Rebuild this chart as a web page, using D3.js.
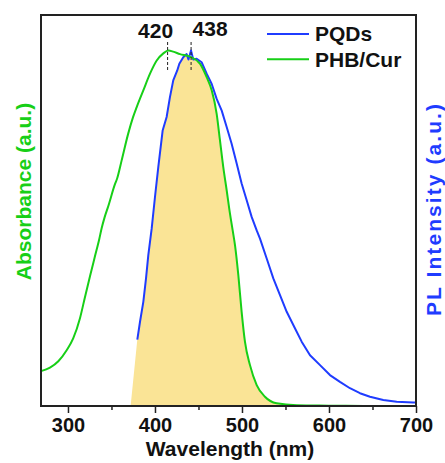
<!DOCTYPE html>
<html>
<head>
<meta charset="utf-8">
<script src="https://cdn.jsdelivr.net/npm/d3@7"></script>
<style>
    body { margin: 0; background: #fff; }
    text { font-family: "Liberation Sans", Arial, sans-serif; font-weight: bold; }
</style>
</head>
<body>
<div id="chart"></div>
<script>
// absorbance of PHB/Cur film (normalised)
const absWavelength = [269, 279.3, 288.9, 298.5, 306, 313.8, 319.5, 325.3, 331, 336, 338.7,
    342, 346.3, 354, 356.5, 361.7, 369.3, 374.7, 379, 386.6, 394.3, 402, 409.6, 415.3,
    421, 428.7, 440, 451.7, 459.4, 465.2, 470.9, 474.7, 478.5, 482.4, 486.2, 489.3, 492, 495.8,
    499.6, 503.4, 509.2, 516.9, 526.4, 539.8, 562.9, 600, 650, 700];
const absValue = [0.098, 0.108, 0.126, 0.157, 0.19, 0.247, 0.306, 0.365, 0.421, 0.47, 0.5,
    0.53, 0.562, 0.624, 0.64, 0.691, 0.767, 0.812, 0.841, 0.888, 0.935, 0.972, 0.992, 1.0,
    0.997, 0.99, 0.983, 0.963, 0.925, 0.888, 0.822, 0.747, 0.672, 0.607, 0.541, 0.494, 0.452, 0.368,
    0.265, 0.181, 0.115, 0.059, 0.026, 0.0075, 0.002, 0.001, 0.0, 0.0];

// PL emission of PQDs (normalised)
const plWavelength = [379.7, 382.8, 386.6, 389.7, 392.3, 396.2, 400, 403.8, 408.8, 413.4, 417.2,
    421, 425.6, 428, 432.5, 436.4, 438.5, 441.4, 444, 447.9, 453.6, 459.4, 465.2, 470.9, 476.7,
    482.4, 488.1, 493.9, 499.6, 505.4, 511.1, 516.9, 520.7, 528.4, 536, 543.7, 551.4, 561, 568.6,
    578.2, 589.7, 601.1, 612.6, 624.1, 635.6, 647.1, 662.4, 677.8, 696.9, 700];
const plValue = [0.187, 0.237, 0.293, 0.359, 0.424, 0.499, 0.588, 0.672, 0.775, 0.813, 0.869,
    0.916, 0.944, 0.963, 0.981, 0.99, 0.975, 1.0, 0.975, 0.977, 0.967, 0.935, 0.906, 0.864, 0.831,
    0.785, 0.738, 0.682, 0.626, 0.579, 0.532, 0.494, 0.471, 0.415, 0.359, 0.312, 0.265, 0.218, 0.181,
    0.143, 0.115, 0.087, 0.068, 0.05, 0.036, 0.026, 0.017, 0.012, 0.010, 0.010];

// where the shaded overlap starts on the baseline
const overlapStart = 372;

const xTicks = [300, 400, 500, 600, 700];
const xMinorTicks = [350, 450, 550, 650];

// peak markers: position on the axis and the label printed
const peakX = [414.5, 441.5];
const peakText = ["420", "438"];

const seriesNames = ["PQDs", "PHB/Cur"];

let width = 445,
    height = 463,
    margin = { left: 41, right: 29, top: 15, bottom: 57 },
    blue = "#1f3cff",
    green = "#17cf17",
    fillColor = "#fae496";

const chartWidth = width - margin.left - margin.right;
const chartHeight = height - margin.top - margin.bottom;

const xScale = d3.scaleLinear().domain([269, 700]).range([0, chartWidth]);
const yAbs = d3.scaleLinear().domain([0, 1.1]).range([chartHeight, 0]);
const yPL = d3.scaleLinear().domain([0, 1.1]).range([chartHeight, 0]);

const absData = absWavelength.map((d, i) => ({ x: d, y: absValue[i] }));
const plData = plWavelength.map((d, i) => ({ x: d, y: plValue[i] }));

// linear lookup so the overlap can be taken as min of both curves
function lookup(data, x) {
    if (x <= data[0].x) return data[0].y;
    for (let i = 1; i < data.length; i++) {
        if (x <= data[i].x) {
            const a = data[i - 1], b = data[i];
            return a.y + (b.y - a.y) * (x - a.x) / (b.x - a.x);
        }
    }
    return data[data.length - 1].y;
}
const plExtended = [{ x: overlapStart, y: 0 }].concat(plData);
const overlapX = Array.from(new Set(absWavelength.concat(plExtended.map(d => d.x))))
    .filter(d => d >= overlapStart)
    .sort((a, b) => a - b);
const overlapData = overlapX.map(x => ({ x: x, y: Math.min(lookup(plExtended, x), lookup(absData, x)) }));

const svg = d3.select("#chart").append("svg")
    .attr("width", width)
    .attr("height", height);

const g = svg.append("g")
    .attr("transform", "translate(" + margin.left + "," + margin.top + ")");

// shaded overlap
g.append("path")
    .datum(overlapData)
    .attr("fill", fillColor)
    .attr("d", d3.area().x(d => xScale(d.x)).y0(chartHeight).y1(d => yPL(d.y)));

// curves
g.append("path")
    .datum(plData)
    .attr("fill", "none")
    .attr("stroke", blue)
    .attr("stroke-width", 2)
    .attr("stroke-linejoin", "round")
    .attr("d", d3.line().x(d => xScale(d.x)).y(d => yPL(d.y)));

g.append("path")
    .datum(absData)
    .attr("fill", "none")
    .attr("stroke", green)
    .attr("stroke-width", 2)
    .attr("d", d3.line().curve(d3.curveMonotoneX).x(d => xScale(d.x)).y(d => yAbs(d.y)));

// x axis with major + minor ticks
const xAxis = d3.axisBottom(xScale).tickValues(xTicks).tickSize(7).tickPadding(5);
const xAxisG = g.append("g")
    .attr("transform", "translate(0," + chartHeight + ")")
    .call(xAxis);
xAxisG.select(".domain").remove();
xAxisG.selectAll(".tick line").attr("stroke", "#222").attr("stroke-width", 1.5);
xAxisG.selectAll(".tick text")
    .attr("fill", "#111")
    .style("font-size", "20px")
    .style("font-family", "'Liberation Sans', Arial, sans-serif")
    .style("font-weight", "bold");

const minorAxisG = g.append("g")
    .attr("transform", "translate(0," + chartHeight + ")")
    .call(d3.axisBottom(xScale).tickValues(xMinorTicks).tickSize(4).tickFormat(""));
minorAxisG.select(".domain").remove();
minorAxisG.selectAll(".tick line").attr("stroke", "#222").attr("stroke-width", 1.5);

// frame
g.append("rect")
    .attr("width", chartWidth)
    .attr("height", chartHeight)
    .attr("fill", "none")
    .attr("stroke", "#222")
    .attr("stroke-width", 2);

// peak markers
peakX.forEach((p, i) => {
    g.append("line")
        .attr("x1", xScale(p)).attr("x2", xScale(p))
        .attr("y1", 27).attr("y2", 56)
        .attr("stroke", "#222")
        .attr("stroke-width", 1)
        .attr("stroke-dasharray", "3,2");
    g.append("text")
        .attr("x", i === 0 ? xScale(p) + 5.5 : xScale(p) + 1.5)
        .attr("y", i === 0 ? 22.5 : 21)
        .attr("text-anchor", i === 0 ? "end" : "start")
        .style("font-size", "21px")
        .attr("fill", "#111")
        .text(peakText[i]);
});

// legend
const legend = g.append("g").attr("transform", "translate(" + (267 - margin.left) + ",0)");
[blue, green].forEach((c, i) => {
    legend.append("line")
        .attr("x1", 0).attr("x2", 42)
        .attr("y1", 19 + i * 25.3).attr("y2", 19 + i * 25.3)
        .attr("stroke", c)
        .attr("stroke-width", 2);
    legend.append("text")
        .attr("x", 48)
        .attr("y", 25.5 + i * 26.5)
        .style("font-size", "21px")
        .attr("fill", "#111")
        .text(seriesNames[i]);
});

// axis titles
svg.append("text")
    .attr("x", margin.left + chartWidth / 2 + 1.5)
    .attr("y", 456)
    .attr("text-anchor", "middle")
    .style("font-size", "21px")
    .attr("fill", "#111")
    .text("Wavelength (nm)");

svg.append("text")
    .attr("transform", "translate(31,191.5) rotate(-90)")
    .attr("text-anchor", "middle")
    .style("font-size", "21px")
    .attr("fill", green)
    .text("Absorbance (a.u.)");

// right title runs a little longer than the left one in the original
svg.append("text")
    .attr("transform", "translate(440.5,210) rotate(-90)")
    .attr("text-anchor", "middle")
    .attr("textLength", 212)
    .attr("lengthAdjust", "spacing")
    .style("font-size", "21px")
    .attr("fill", blue)
    .text("PL Intensity (a.u.)");
</script>
</body>
</html>
